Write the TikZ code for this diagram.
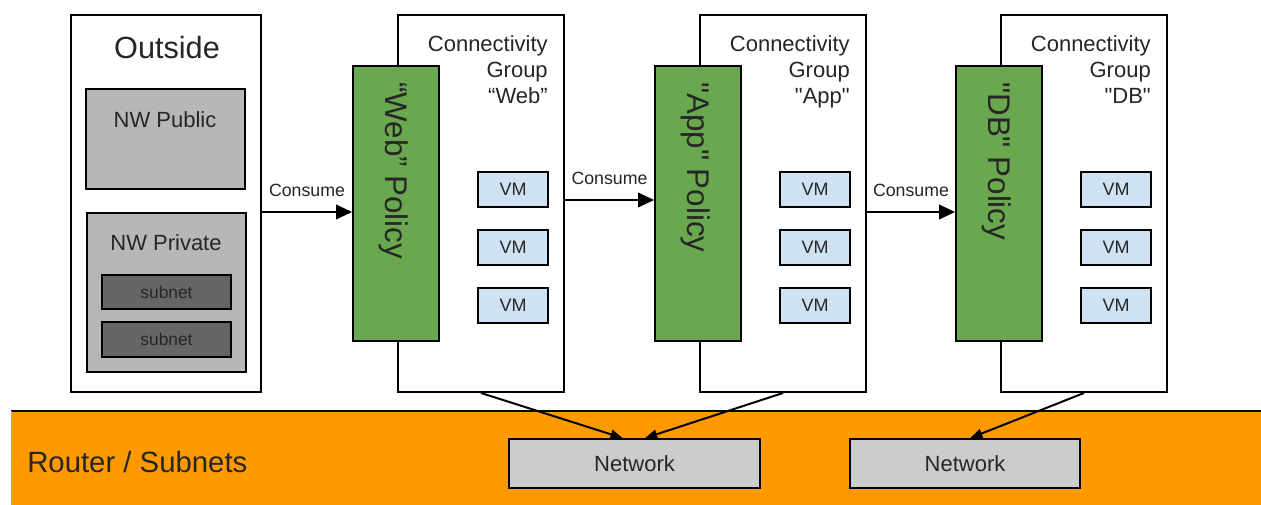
\documentclass[tikz,border=0pt]{standalone}
\usepackage{fontspec}
\setmainfont{Liberation Sans}
\usetikzlibrary{fit,arrows.meta}
\definecolor{polgreen}{HTML}{6AA84F}
\definecolor{vmblue}{HTML}{CFE2F3}
\definecolor{lgray}{HTML}{B7B7B7}
\definecolor{dgray}{HTML}{666666}
\definecolor{netgray}{HTML}{CCCCCC}
\definecolor{band}{HTML}{FF9900}
\definecolor{txt}{HTML}{262626}
\newcommand{\qq}{\textquotedbl}
\begin{document}
\begin{tikzpicture}[x=0.75pt,y=-0.75pt,
  box/.style={draw=black, line width=1.5pt, inner sep=0pt},
  lbl/.style={inner sep=0pt, text=txt},
  vmfont/.style={font=\fontsize{13.5}{16}\selectfont},
  subfont/.style={font=\fontsize{13}{16}\selectfont},
  netfont/.style={font=\fontsize{16.5}{20}\selectfont},
  polbox/.style={box, fill=polgreen},
  cons/.style={line width=1.5pt, -{Triangle[length=12pt,width=11pt]}},
  netarr/.style={line width=1.5pt, -{Triangle[length=9pt,width=7pt]}},
  midfont/.style={font=\fontsize{16.5}{19.5}\selectfont},
  consfont/.style={font=\fontsize{13.3}{16}\selectfont}
]
\useasboundingbox (0,0) rectangle (1261,505);
\fill[white] (0,0) rectangle (1261,505);

% Outside
\node[box, fill=white, fit={(71,15)(261,392)}] (outside) {};
\node[lbl, font=\fontsize{23}{27}\selectfont] (outsidet) at (167,48) {Outside};
\node[box, fill=lgray, fit={(86,89)(245,189)}] (pub) {};
\node[lbl, midfont] (pubt) at (165,120) {NW Public};
\node[box, fill=lgray, fit={(87,213)(246,372)}] (priv) {};
\node[lbl, midfont] (privt) at (166,243) {NW Private};
\node[box, fill=dgray, fit={(102,275)(231,309)}] (sub1) {};
\node[lbl, subfont] (sub1t) at (sub1.center) {subnet};
\node[box, fill=dgray, fit={(102,322)(231,357)}] (sub2) {};
\node[lbl, subfont] (sub2t) at (sub2.center) {subnet};

% Groups
\foreach \gx/\nm/\pol/\grp in {353/web/{“Web” Policy}/{“Web”},655/app/{\qq App\qq{} Policy}/{\qq App\qq},956/db/{\qq DB\qq{} Policy}/{\qq DB\qq}}{
  \pgfmathsetmacro{\gl}{\gx+45}
  \pgfmathsetmacro{\gr}{\gx+211}
  \pgfmathsetmacro{\gp}{\gx+86}
  \pgfmathsetmacro{\gc}{\gx+41}
  \pgfmathsetmacro{\tx}{\gr-16}
  \pgfmathsetmacro{\vl}{\gr-86}
  \node[box, fill=white, fit={(\gl,15)(\gr,392)}] (\nm grp) {};
  \node[polbox, fit={(\gx,66)(\gp,341)}] (\nm pol) {};
  \node[lbl, rotate=-90, anchor=west, font=\fontsize{23.5}{28}\selectfont] (\nm polt) at (\gc,82) {\pol};
  \node[lbl, midfont, anchor=base east] (\nm ta) at (\tx,52) {Connectivity};
  \node[lbl, midfont, anchor=base east] (\nm tb) at (\tx,78) {Group};
  \node[lbl, midfont, anchor=base east] (\nm tc) at (\tx,104) {\grp};
  \node[box, fill=vmblue, fit={(\vl,172)(\tx,207)}] (\nm vma) {};
  \node[lbl, vmfont] at (\nm vma.center) {VM};
  \node[box, fill=vmblue, fit={(\vl,230)(\tx,265)}] (\nm vmb) {};
  \node[lbl, vmfont] at (\nm vmb.center) {VM};
  \node[box, fill=vmblue, fit={(\vl,288)(\tx,323)}] (\nm vmc) {};
  \node[lbl, vmfont] at (\nm vmc.center) {VM};
}

% Consume arrows
\coordinate (ya) at (0,212);
\coordinate (yb) at (0,200);
\draw[cons] (outside.east |- ya) -- node[lbl, consfont, above=11pt] (c1) {Consume} (webpol.west |- ya);
\draw[cons] (webgrp.east |- yb) -- node[lbl, consfont, above=11pt] (c2) {Consume} (apppol.west |- yb);
\draw[cons] (appgrp.east |- ya) -- node[lbl, consfont, above=11pt] (c3) {Consume} (dbpol.west |- ya);

% Router band
\fill[band] (11,411) rectangle (1261,505);
\draw[line width=1.5pt] (11,411) -- (1261,411);
\draw[line width=0.6pt, black!35] (11,411) -- (11,505);
\node[lbl, anchor=west, font=\fontsize{22}{26}\selectfont] (router) at (27,462) {Router / Subnets};
\node[box, fill=netgray, fit={(509,439)(760,488)}] (net1) {};
\node[lbl, netfont] (net1t) at (net1.center) {Network};
\node[box, fill=netgray, fit={(850,439)(1080,488)}] (net2) {};
\node[lbl, netfont] (net2t) at (net2.center) {Network};

\draw[netarr] (webgrp.south) -- ([xshift=-9pt]net1.north);
\draw[netarr] (appgrp.south) -- ([xshift=8pt]net1.north);
\draw[netarr] (dbgrp.south) -- ([xshift=4pt]net2.north);
\end{tikzpicture}
\end{document}
